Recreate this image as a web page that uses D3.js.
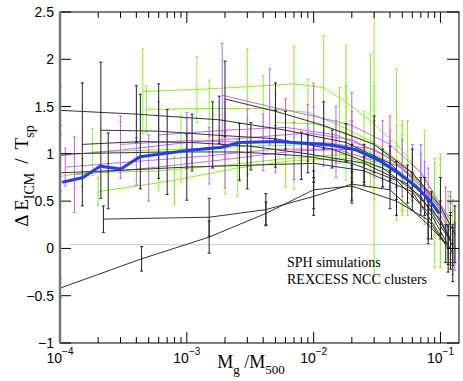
<!DOCTYPE html>
<html>
<head>
<meta charset="utf-8">
<script src="https://cdn.jsdelivr.net/npm/d3@7"></script>
<style>
  body { margin: 0; background: #fff; }
  svg { display: block; }
</style>
</head>
<body>
<div id="chart"></div>
<script>
//
// Delta E_ICM / T_sp versus Mg/M500 -- SPH runs and REXCESS NCC clusters
//

const _width = 463;
const _height = 381;
const _plotLeft = 60;
const _plotRight = 459;
const _plotTop = 12;
const _plotBottom = 343;

var xDomain = [1e-4, 0.14];
var yDomain = [-1, 2.5];
var yTicks = [-1, -0.5, 0, 0.5, 1, 1.5, 2, 2.5];
var xDecades = [-4, -3, -2, -1];
var zeroLine = { x: [1.18e-4, 0.09], y: 0.04 };

// black: REXCESS NCC clusters (x, y, error half-length)
var nccClusters = [
    { x: [1e-4, 4e-4, 1.8e-3, 6e-3, 0.018, 0.04, 0.075, 0.12], y: [1.46, 1.42, 1.36, 1.25, 1.12, 0.90, 0.55, 0.10], e: [0.25, 0.3, 0.25, 0.2, 0.2, 0.18, 0.2, 0.25] },
    { x: [1e-4, 2.4e-4, 1e-3, 3e-3, 0.01, 0.025, 0.06, 0.11], y: [0.80, 0.82, 0.86, 0.88, 0.90, 0.82, 0.60, 0.05], e: [0.2, 0.4, 0.35, 0.25, 0.2, 0.15, 0.2, 0.2] },
    { x: [1.5e-4, 4.3e-4, 1.1e-3, 3.2e-3, 0.009, 0.025, 0.055, 0.1, 0.125], y: [1.10, 1.13, 1.12, 1.08, 1.00, 0.90, 0.68, 0.30, 0.02], e: [0.65, 0.5, 0.3, 0.25, 0.2, 0.2, 0.2, 0.2, 0.2] },
    { x: [2.1e-4, 6e-4, 1.6e-3, 5e-3, 0.014, 0.035, 0.07, 0.12], y: [1.25, 1.24, 1.20, 1.16, 1.05, 0.85, 0.55, 0.08], e: [0.72, 0.5, 0.35, 0.3, 0.2, 0.2, 0.2, 0.3] },
    { x: [1e-4, 4.4e-4, 1.5e-3, 4.2e-3, 0.01, 0.02, 0.045, 0.08, 0.115], y: [-0.42, -0.11, 0.12, 0.37, 0.62, 0.66, 0.50, 0.30, 0.00], e: [0.1, 0.13, 0.17, 0.12, 0.2, 0.15, 0.15, 0.2, 0.25] },
    { x: [2.2e-4, 1.5e-3, 4.2e-3, 0.01, 0.02, 0.04, 0.08, 0.115], y: [0.31, 0.33, 0.41, 0.55, 0.68, 0.62, 0.25, 0.03], e: [0.14, 0.2, 0.17, 0.2, 0.2, 0.2, 0.2, 0.2] },
    { x: [1e-4, 7e-4, 2.6e-3, 8e-3, 0.02, 0.045, 0.085, 0.125], y: [1.00, 1.02, 1.02, 0.98, 0.90, 0.72, 0.35, -0.05], e: [0.3, 0.45, 0.3, 0.25, 0.2, 0.2, 0.25, 0.3] },
    { x: [2e-3, 5e-3, 0.012, 0.03, 0.06, 0.1, 0.13], y: [1.58, 1.45, 1.30, 1.10, 0.80, 0.45, 0.15], e: [0.4, 0.3, 0.25, 0.3, 0.25, 0.3, 0.3] }
];

// green: SPH simulations
var sphGreen = [
    { x: [4.5e-4, 1.2e-3, 3e-3, 7e-3, 0.012, 0.018, 0.028, 0.045, 0.075, 0.115], y: [1.66, 1.68, 1.71, 1.74, 1.70, 1.55, 1.35, 1.10, 0.75, 0.25], e: [0.45, 0.35, 0.4, 0.4, 0.55, 0.6, 0.7, 0.8, 0.5, 0.35] },
    { x: [4.8e-4, 1.5e-3, 4e-3, 9e-3, 0.016, 0.03, 0.055, 0.1], y: [1.47, 1.48, 1.48, 1.44, 1.30, 1.12, 0.85, 0.40], e: [0.25, 0.3, 0.35, 0.35, 0.4, 0.6, 0.5, 0.6] },
    { x: [2e-4, 8e-4, 2.5e-3, 7e-3, 0.02, 0.045, 0.09], y: [0.60, 0.72, 0.85, 0.93, 0.95, 0.80, 0.35], e: [0.15, 0.25, 0.3, 0.3, 0.35, 0.5, 0.55] },
    { x: [1e-4, 1.5e-4, 6e-4, 2e-3, 6e-3, 0.02, 0.05, 0.1], y: [0.76, 0.80, 0.82, 0.88, 0.95, 1.00, 0.80, 0.45], e: [0.15, 0.15, 0.2, 0.3, 0.3, 0.35, 0.4, 0.5] },
    { x: [1.8e-4, 9e-4, 3e-3, 0.01, 0.025, 0.05, 0.09, 0.125], y: [1.02, 1.05, 1.08, 1.10, 1.05, 0.85, 0.55, 0.12], e: [0.25, 0.35, 0.3, 0.4, 0.4, 0.45, 0.4, 0.4] },
    { x: [5e-3, 0.01, 0.018, 0.03, 0.05, 0.1], y: [1.33, 1.32, 1.22, 1.10, 0.85, 0.38], e: [0.3, 0.4, 0.5, 1.4, 0.5, 0.5] }
];

// violet: SPH simulations
var sphViolet = [
    { x: [1e-4, 3e-4, 1e-3, 3e-3, 9e-3, 0.02, 0.04, 0.075, 0.12], y: [0.98, 1.04, 1.12, 1.17, 1.22, 1.15, 0.95, 0.62, 0.18], e: [0.2, 0.3, 0.25, 0.3, 0.3, 0.3, 0.3, 0.3, 0.3] },
    { x: [1.1e-4, 4e-4, 1.5e-3, 5e-3, 0.015, 0.04, 0.08, 0.13], y: [0.86, 0.92, 0.98, 1.05, 1.05, 0.88, 0.55, 0.02], e: [0.2, 0.25, 0.3, 0.25, 0.3, 0.25, 0.3, 0.25] },
    { x: [1.9e-3, 4.5e-3, 0.01, 0.02, 0.04, 0.07, 0.12], y: [1.62, 1.50, 1.40, 1.30, 1.10, 0.80, 0.30], e: [0.55, 0.4, 0.35, 0.35, 0.3, 0.3, 0.3] },
    { x: [1.3e-4, 5e-4, 2e-3, 7e-3, 0.02, 0.05, 0.1], y: [0.78, 0.85, 0.94, 1.03, 1.05, 0.85, 0.45], e: [0.4, 0.35, 0.3, 0.3, 0.3, 0.3, 0.3] },
    { x: [6e-4, 2e-3, 6e-3, 0.015, 0.035, 0.07, 0.12], y: [1.20, 1.25, 1.28, 1.20, 1.00, 0.70, 0.25], e: [0.35, 0.3, 0.3, 0.3, 0.35, 0.3, 0.3] },
    { x: [3e-4, 1e-3, 4e-3, 0.012, 0.03, 0.06, 0.11], y: [1.10, 1.14, 1.12, 1.12, 1.05, 0.80, 0.35], e: [0.3, 0.3, 0.3, 0.25, 0.3, 0.3, 0.3] }
];

// blue: mean profile
var meanX = [1.04e-4, 1.52e-4, 2.07e-4, 3.02e-4, 4.27e-4, 9.3e-4, 1.89e-3, 2.6e-3, 5.1e-3, 9.3e-3, 0.0141, 0.0218, 0.033, 0.0475, 0.0647, 0.0819, 0.098];
var meanY = [0.70, 0.75, 0.87, 0.84, 0.97, 1.03, 1.07, 1.12, 1.13, 1.11, 1.09, 1.04, 0.93, 0.79, 0.65, 0.51, 0.37];

var legendLines = ["SPH simulations", "REXCESS NCC clusters"];

var svg = d3.select("#chart").append("svg")
    .attr("width", _width)
    .attr("height", _height);

var x = d3.scaleLog().domain(xDomain).range([_plotLeft, _plotRight]);
var y = d3.scaleLinear().domain(yDomain).range([_plotBottom, _plotTop]);

svg.append("clipPath").attr("id", "plotClip")
    .append("rect")
    .attr("x", _plotLeft).attr("y", _plotTop)
    .attr("width", _plotRight - _plotLeft).attr("height", _plotBottom - _plotTop);

var plot = svg.append("g").attr("clip-path", "url(#plotClip)");

// faint reference line
plot.append("line")
    .attr("x1", x(zeroLine.x[0])).attr("x2", x(zeroLine.x[1]))
    .attr("y1", y(zeroLine.y)).attr("y2", y(zeroLine.y))
    .attr("stroke", "#d0d0d0").attr("stroke-width", 1);

var lineGen = d3.line().x(d => x(d[0])).y(d => y(d[1]));

function drawSeries(list, lineColor, barColor) {
    list.forEach(function (s) {
        var pts = s.x.map((v, i) => [v, s.y[i], s.e[i]]);
        var g = plot.append("g");
        g.append("path")
            .attr("d", lineGen(pts))
            .attr("fill", "none")
            .attr("stroke", lineColor)
            .attr("stroke-width", 1);
        var bars = g.selectAll("g.bar").data(pts).join("g").attr("class", "bar");
        bars.append("line")
            .attr("x1", d => x(d[0])).attr("x2", d => x(d[0]))
            .attr("y1", d => y(d[1] - d[2])).attr("y2", d => y(d[1] + d[2]))
            .attr("stroke", barColor).attr("stroke-width", 1);
        [-1, 1].forEach(function (sgn) {
            bars.append("line")
                .attr("x1", d => x(d[0]) - 1.5).attr("x2", d => x(d[0]) + 1.5)
                .attr("y1", d => y(d[1] + sgn * d[2])).attr("y2", d => y(d[1] + sgn * d[2]))
                .attr("stroke", barColor).attr("stroke-width", 1);
        });
    });
}

drawSeries(sphGreen, "#80f800", "#84f428");
drawSeries(sphViolet, "#c666f4", "#c464f2");
drawSeries(nccClusters, "#333333", "#222222");

plot.append("path")
    .attr("d", lineGen(meanX.map((v, i) => [v, meanY[i]])))
    .attr("fill", "none")
    .attr("stroke", "#1f3cff")
    .attr("stroke-width", 3)
    .attr("stroke-linejoin", "round");

// frame
var frame = svg.append("g").attr("stroke", "#000").attr("fill", "none");
frame.append("rect")
    .attr("x", _plotLeft).attr("y", _plotTop)
    .attr("width", _plotRight - _plotLeft).attr("height", _plotBottom - _plotTop)
    .attr("stroke-width", 1);
svg.append("line")
    .attr("x1", _plotLeft).attr("x2", _plotLeft)
    .attr("y1", _plotTop).attr("y2", _plotBottom)
    .attr("stroke", "#777").attr("stroke-width", 2.5);

// y ticks (inward, both sides)
yTicks.forEach(function (t) {
    frame.append("line").attr("x1", _plotLeft).attr("x2", _plotLeft + 11)
        .attr("y1", y(t)).attr("y2", y(t));
    frame.append("line").attr("x1", _plotRight - 12).attr("x2", _plotRight)
        .attr("y1", y(t)).attr("y2", y(t));
});

// x ticks (log, major + minor, bottom and top)
xDecades.forEach(function (p) {
    for (var m = 1; m <= 9; m++) {
        var v = m * Math.pow(10, p);
        if (v < xDomain[0] || v > xDomain[1]) continue;
        var len = m == 1 ? 11 : 6;
        frame.append("line").attr("x1", x(v)).attr("x2", x(v))
            .attr("y1", _plotBottom).attr("y2", _plotBottom - len);
        frame.append("line").attr("x1", x(v)).attr("x2", x(v))
            .attr("y1", _plotTop).attr("y2", _plotTop + len);
    }
});

var sans = "Helvetica, Arial, 'Liberation Sans', sans-serif";
var serif = "'Times New Roman', 'Liberation Serif', serif";

// y tick labels
svg.append("g").selectAll("text").data(yTicks).join("text")
    .attr("x", 54)
    .attr("y", d => y(d) + 5)
    .attr("text-anchor", "end")
    .style("font-family", sans)
    .style("font-size", "14px")
    .text(d => d < 0 ? "\u2212" + Math.abs(d) : d);

// x tick labels 10^p
xDecades.forEach(function (p) {
    var t = svg.append("text")
        .attr("x", x(Math.pow(10, p)))
        .attr("y", 363)
        .attr("text-anchor", "middle")
        .style("font-family", sans)
        .style("font-size", "14px");
    t.append("tspan").text("10");
    t.append("tspan").attr("dy", -8).style("font-size", "10px").text("\u2212" + Math.abs(p));
});

// x axis label
var xl = svg.append("text")
    .attr("x", 251).attr("y", 368)
    .attr("text-anchor", "middle")
    .style("font-family", serif)
    .style("font-size", "18px");
xl.append("tspan").text("M");
xl.append("tspan").attr("dy", 6).style("font-size", "13px").text("g");
xl.append("tspan").attr("dy", -6).text(" /M");
xl.append("tspan").attr("dy", 6).style("font-size", "13px").text("500");

// y axis label
var yl = svg.append("text")
    .attr("transform", "translate(28," + 176 + ") rotate(-90)")
    .attr("text-anchor", "middle")
    .style("font-family", serif)
    .style("font-size", "19px");
yl.append("tspan").text("\u0394 E");
yl.append("tspan").attr("dy", 6).style("font-size", "14px").text("ICM");
yl.append("tspan").attr("dy", -6).attr("dx", 9).text("/");
yl.append("tspan").attr("dx", 9).text("T");
yl.append("tspan").attr("dy", 6).style("font-size", "14px").text("sp");

// annotation
svg.append("g").selectAll("text").data(legendLines).join("text")
    .attr("x", 287)
    .attr("y", (d, i) => 267 + i * 17)
    .style("font-family", serif)
    .style("font-size", "14px")
    .text(d => d);
</script>
</body>
</html>
